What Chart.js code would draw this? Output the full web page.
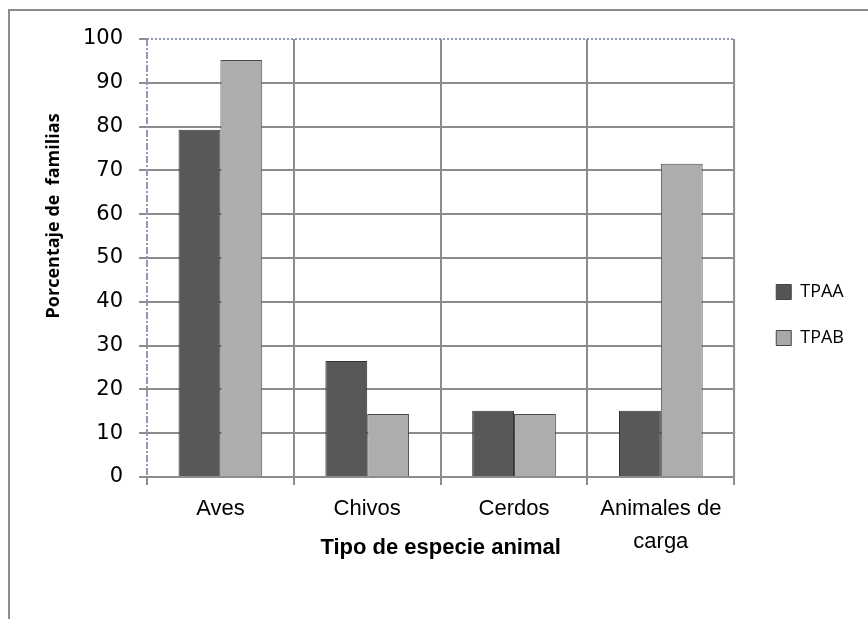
<!DOCTYPE html>
<html>
<head>
<meta charset="utf-8">
<script src="https://cdn.jsdelivr.net/npm/chart.js@4/dist/chart.umd.min.js"></script>
<style>
  html, body { margin: 0; padding: 0; background: #fff; }
  #frame {
    position: absolute; left: 8px; top: 9px; width: 900px; height: 700px;
    border-top: 2px solid #8c8c8c; border-left: 2px solid #8c8c8c;
  }
  #wrap { position: absolute; left: 0; top: 0; width: 868px; height: 619px; }
</style>
</head>
<body>
<div id="frame"></div>
<div id="wrap"><canvas id="chart"></canvas></div>
<script>
// data
const categories = ["Aves", "Chivos", "Cerdos", ["Animales de", "carga"]];
const tpaa = [79.3, 26.5, 15.1, 15.1];
const tpab = [95.2, 14.4, 14.4, 71.5];
const yTicks = [0, 10, 20, 30, 40, 50, 60, 70, 80, 90, 100];

const gridGray = "#8c8c8c";
const axisBlue = "#8f99b0";

// bevel-ish shading across each bar
function barFill(base, edge) {
  return (ctx) => {
    const el = ctx.element;
    if (!el || el.width === undefined || !isFinite(el.x)) return base;
    const c = ctx.chart.ctx;
    const half = el.width / 2;
    const g = c.createLinearGradient(el.x - half, 0, el.x + half, 0);
    g.addColorStop(0, edge);
    g.addColorStop(0.12, base);
    g.addColorStop(0.88, base);
    g.addColorStop(1, edge);
    return g;
  };
}

// dotted top/right edge and dash-dot left axis of the plot area
const plotOutline = {
  id: "plotOutline",
  afterLayout(chart) {
    // legend sits a bit away from the plot, like the original
    if (chart.legend) {
      chart.legend.left += 14;
      chart.legend.right += 14;
    }
  },
  beforeDatasetsDraw(chart) {
    const { ctx, chartArea: a } = chart;
    ctx.save();
    ctx.strokeStyle = axisBlue;
    ctx.lineWidth = 2;
    ctx.setLineDash([2, 2]);
    ctx.beginPath();
    ctx.moveTo(a.left, a.top);
    ctx.lineTo(a.right, a.top);
    ctx.lineTo(a.right, a.bottom);
    ctx.stroke();
    ctx.setLineDash([7, 2, 2, 2]);
    ctx.beginPath();
    ctx.moveTo(a.left, a.top);
    ctx.lineTo(a.left, a.bottom);
    ctx.stroke();
    ctx.restore();
  }
};

new Chart(document.getElementById("chart"), {
  type: "bar",
  data: {
    labels: categories,
    datasets: [
      {
        label: "TPAA",
        data: tpaa,
        backgroundColor: barFill("#585858", "#3c3c3c"),
        borderColor: "#333333",
        borderWidth: 1
      },
      {
        label: "TPAB",
        data: tpab,
        backgroundColor: barFill("#adadad", "#8a8a8a"),
        borderColor: "#4a4a4a",
        borderWidth: 1
      }
    ]
  },
  options: {
    responsive: true,
    maintainAspectRatio: false,
    animation: false,
    layout: { padding: { left: 0, top: 39, bottom: 28, right: 28 } },
    datasets: { bar: { categoryPercentage: 0.57, barPercentage: 1 } },
    plugins: {
      legend: {
        position: "right",
        labels: {
          font: { family: "Open Sans", size: 18 },
          color: "#000",
          boxWidth: 15,
          boxHeight: 15,
          padding: 28,
          generateLabels(chart) {
            return chart.data.datasets.map((ds, i) => ({
              text: ds.label,
              fillStyle: i === 0 ? "#555555" : "#a8a8a8",
              strokeStyle: "#444",
              lineWidth: 1,
              datasetIndex: i
            }));
          }
        }
      },
      tooltip: { enabled: false }
    },
    scales: {
      x: {
        afterFit(scale) { scale.height = 114; },
        grid: {
          color: (c) => (c.index === 0 || c.index === categories.length ? "rgba(0,0,0,0)" : gridGray),
          tickColor: gridGray,
          lineWidth: 2,
          tickLength: 8
        },
        border: { color: gridGray, width: 2 },
        ticks: {
          font: { family: "Liberation Sans", size: 22, lineHeight: 1.5 },
          color: "#000",
          padding: 7,
          maxRotation: 0
        },
        title: {
          display: true,
          text: "Tipo de especie animal",
          font: { family: "Liberation Sans", size: 22, weight: "bold" },
          color: "#000",
          padding: { top: 0, bottom: 30 }
        }
      },
      y: {
        min: 0,
        max: 100,
        afterFit(scale) { scale.width = 147; },
        afterBuildTicks(scale) { scale.ticks = yTicks.map((v) => ({ value: v })); },
        grid: {
          color: (c) => (c.tick && c.tick.value === 100 ? "rgba(0,0,0,0)" : gridGray),
          tickColor: gridGray,
          lineWidth: 2,
          tickLength: 8
        },
        border: { display: false },
        ticks: {
          font: { family: "DejaVu Sans", size: 21 },
          color: "#000",
          padding: 16
        },
        title: {
          display: true,
          // leading spaces lift the title toward the top, as in the original
          text: "\u00a0".repeat(18) + "Porcentaje de  familias",
          font: { family: "Open Sans", size: 18, weight: "bold" },
          color: "#000",
          padding: { top: 43, bottom: 0 }
        }
      }
    }
  },
  plugins: [plotOutline]
});
</script>
</body>
</html>
